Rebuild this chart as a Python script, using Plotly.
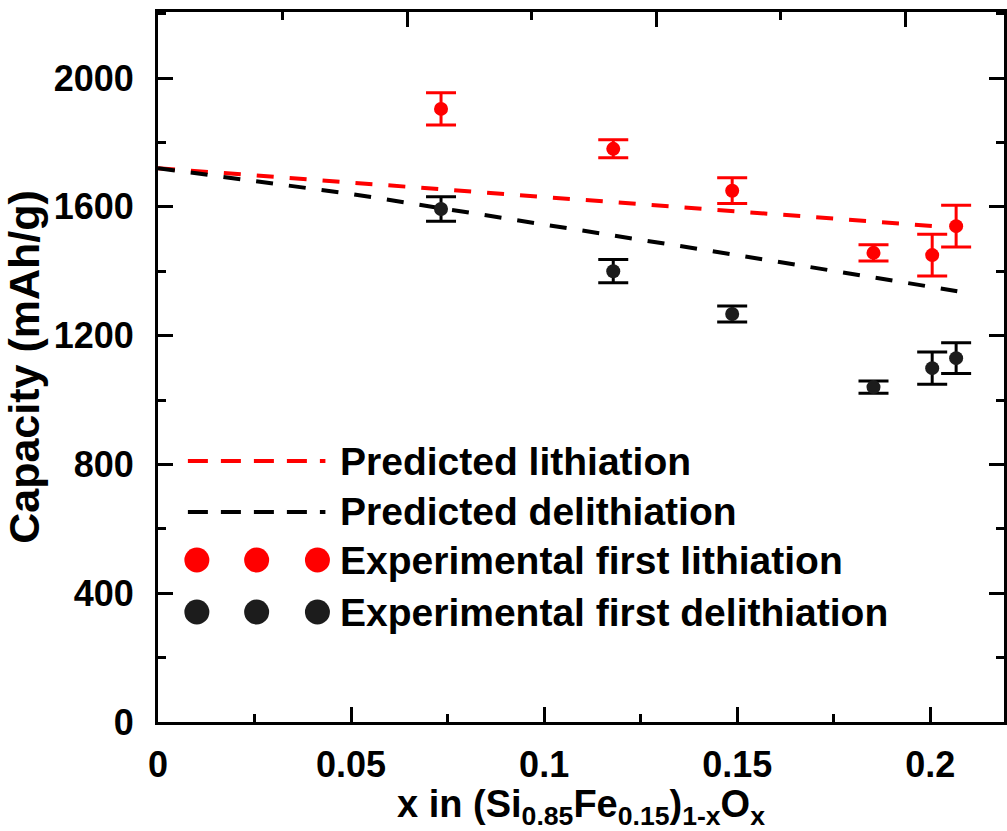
import plotly.graph_objects as go

# ---------------- data ----------------
exp_x = [0.0733, 0.1179, 0.1487, 0.1853, 0.2005, 0.2067]
exp_lith = [1904, 1780, 1650, 1457, 1450, 1540]
exp_lith_err = [50, 28, 40, 25, 65, 65]
exp_delith = [1593, 1400, 1267, 1040, 1099, 1130]
exp_delith_err = [38, 36, 25, 19, 50, 48]

pred_lith_x = [0, 0.05, 0.1, 0.15, 0.2011]
pred_lith_y = [1720, 1675, 1631, 1588, 1540]
pred_delith_x = [0, 0.05, 0.1, 0.15, 0.207]
pred_delith_y = [1720, 1640, 1545, 1450, 1338]

x_ticks = [0, 0.05, 0.1, 0.15, 0.2]
x_tick_labels = ["0", "0.05", "0.1", "0.15", "0.2"]
y_ticks = [0, 400, 800, 1200, 1600, 2000]

legend_labels = ["Predicted lithiation", "Predicted delithiation",
                 "Experimental first lithiation", "Experimental first delithiation"]

RED = "#ff0000"
BLACK = "#000000"
DOT_BLACK = "#1c1c1c"
FONT = "Liberation Sans, Arial, Helvetica, sans-serif"
FS = 36
FS_LEG = 39
FS_XTITLE = 38
FS_YTITLE = 43

W, H = 1007, 831
L, R, T, B = 158, 0, 12, 109
PW, PH = W - L - R, H - T - B

fig = go.Figure()

dash = "17px,16px"
fig.add_trace(go.Scatter(x=pred_lith_x, y=pred_lith_y, mode="lines",
                         line=dict(color=RED, width=4, dash=dash), showlegend=False))
fig.add_trace(go.Scatter(x=pred_delith_x, y=pred_delith_y, mode="lines",
                         line=dict(color=BLACK, width=4, dash=dash), showlegend=False))
fig.add_trace(go.Scatter(x=exp_x, y=exp_lith, mode="markers",
                         marker=dict(color=RED, size=14),
                         error_y=dict(type="data", array=exp_lith_err, color=RED,
                                      thickness=3, width=15),
                         showlegend=False))
fig.add_trace(go.Scatter(x=exp_x, y=exp_delith, mode="markers",
                         marker=dict(color=DOT_BLACK, size=14),
                         error_y=dict(type="data", array=exp_delith_err, color=BLACK,
                                      thickness=3, width=15),
                         showlegend=False))

# dummy trace for the top axis (own tick spacing)
fig.add_trace(go.Scatter(x=[0], y=[0], xaxis="x2", mode="markers",
                         marker=dict(opacity=0), showlegend=False, hoverinfo="skip"))


def px2paper(px, py):
    return (px - L) / PW, (H - B - py) / PH


# ---------------- manual legend ----------------
shapes = []
annotations = []
leg_rows = [461, 512, 560, 612]
for i, (lab, row) in enumerate(zip(legend_labels, leg_rows)):
    if i < 2:
        col = RED if i == 0 else BLACK
        x0, y0 = px2paper(188, row)
        x1, _ = px2paper(326, row)
        shapes.append(dict(type="line", xref="paper", yref="paper", x0=x0, x1=x1,
                           y0=y0, y1=y0, line=dict(color=col, width=4, dash="20px,13px")))
    else:
        col = RED if i == 2 else DOT_BLACK
        for cx in [197, 257, 318]:
            xa, ya = px2paper(cx, row)
            shapes.append(dict(type="circle", xref="paper", yref="paper",
                               xsizemode="pixel", ysizemode="pixel",
                               xanchor=xa, yanchor=ya, x0=-12.5, x1=12.5, y0=-12.5, y1=12.5,
                               fillcolor=col, line=dict(width=0)))
    tx, ty = px2paper(339, row)
    annotations.append(dict(text=lab, xref="paper", yref="paper", x=tx, y=ty,
                            xanchor="left", yanchor="middle", showarrow=False,
                            font=dict(family=FONT, size=FS_LEG, color="black", weight="bold")))

fig.update_layout(
    width=W, height=H,
    margin=dict(l=L, r=R, t=T, b=B, pad=0),
    paper_bgcolor="white", plot_bgcolor="white",
    font=dict(family=FONT, size=FS, color="black", weight="bold"),
    shapes=shapes, annotations=annotations,
    xaxis=dict(range=[0, PW / 3875.0], tickvals=x_ticks, ticktext=x_tick_labels,
               showgrid=False, zeroline=False, showline=True, linecolor="black",
               linewidth=3, ticks="inside", ticklen=15, tickwidth=3, tickcolor="black",
               minor=dict(dtick=0.025, ticks="inside", ticklen=8, tickwidth=3,
                          tickcolor="black"),
               mirror=False, ticklabelstandoff=9,
               tickfont=dict(family=FONT, size=FS, color="black", weight="bold"),
               title=dict(text="x in (Si<sub>0.85</sub>Fe<sub>0.15</sub>)<sub>1-x</sub>O<sub>x</sub>",
                          font=dict(family=FONT, size=FS_XTITLE, color="black", weight="bold"),
                          standoff=10)),
    xaxis2=dict(overlaying="x", side="top", range=[0, PW / 125.0],
                tickvals=[2, 4, 6], showticklabels=False, showgrid=False, zeroline=False,
                showline=True, linecolor="black", linewidth=3, ticks="inside",
                ticklen=15, tickwidth=3, tickcolor="black",
                minor=dict(tickvals=[1, 3, 5], ticks="inside", ticklen=8, tickwidth=3,
                           tickcolor="black")),
    yaxis=dict(range=[0, 2205], tickvals=y_ticks, showgrid=False, zeroline=False,
               showline=True, linecolor="black", linewidth=3, ticks="inside",
               ticklen=15, tickwidth=3, tickcolor="black",
               minor=dict(dtick=200, ticks="inside", ticklen=8, tickwidth=3,
                          tickcolor="black"),
               mirror="ticks", ticklabelstandoff=14,
               tickfont=dict(family=FONT, size=FS, color="black", weight="bold"),
               title=dict(text="Capacity (mAh/g)",
                          font=dict(family=FONT, size=FS_YTITLE, color="black", weight="bold"),
                          standoff=20)),
)

fig.write_html("out.html")
